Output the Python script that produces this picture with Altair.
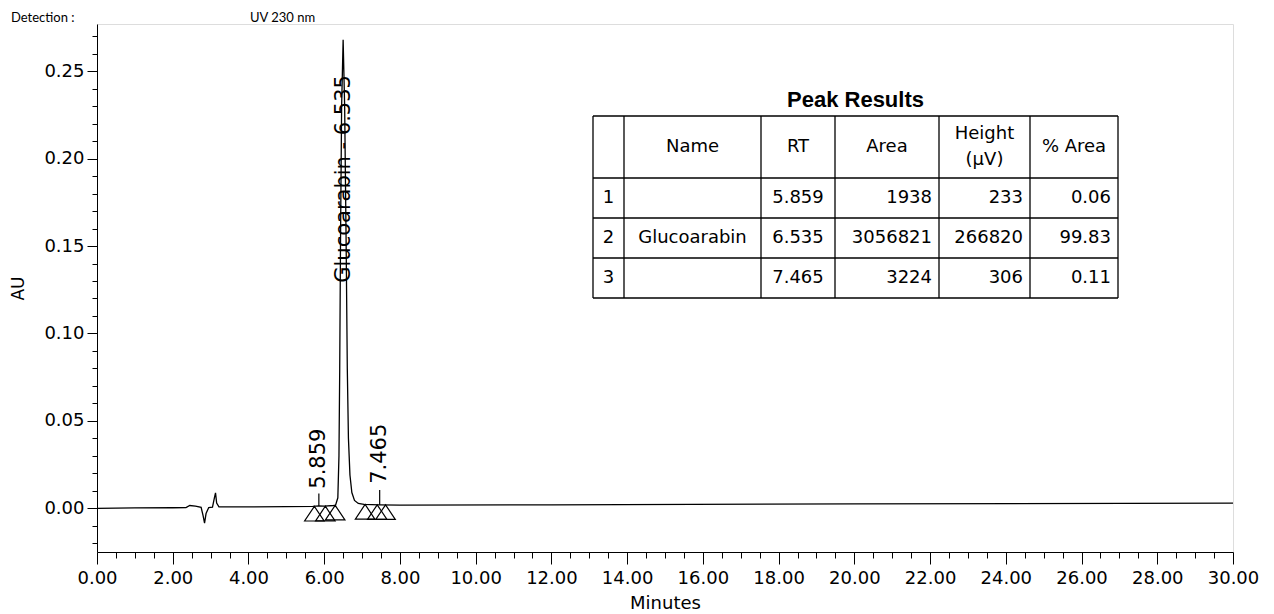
import altair as alt
import pandas as pd

# ---------------- chromatogram trace ----------------
TIME = [0.00, 1.00, 2.00, 2.35, 2.45, 2.60, 2.75, 2.80, 2.84, 2.88, 2.95, 3.05,
        3.10, 3.13, 3.16, 3.22, 4.00, 5.00, 5.70, 5.86, 6.00, 6.25, 6.30, 6.36,
        6.39, 6.41, 6.43, 6.46, 6.50, 6.54, 6.58, 6.61, 6.64, 6.68, 6.73, 6.80,
        6.90, 7.05, 7.465, 8.00, 12.00, 20.00, 30.00]
AU = [0.0000, 0.0002, 0.0003, 0.0004, 0.0016, 0.0012, 0.0005, -0.0040, -0.0085,
      -0.0030, 0.0004, 0.0006, 0.0060, 0.0088, 0.0030, 0.0008, 0.0008, 0.0010,
      0.0011, 0.0014, 0.0012, 0.0016, 0.0018, 0.0060, 0.0300, 0.0800, 0.1500,
      0.2300, 0.2680, 0.2300, 0.1500, 0.0800, 0.0400, 0.0190, 0.0090, 0.0045,
      0.0028, 0.0022, 0.0020, 0.0018, 0.0020, 0.0025, 0.0030]

# peak labels
PEAK_RT = [5.859, 6.535, 7.465]
PEAK_TEXT = ["5.859", "Glucoarabin - 6.535", "7.465"]
PEAK_LABEL_AU = [0.0112, 0.129, 0.0140]
TICK_RT = [5.859, 7.465]
TICK_BASE = [0.0013, 0.0020]
TICK_TOP = [0.0085, 0.0105]

# integration markers (triangles)
MARK_TIME = [5.74, 6.03, 6.29, 7.08, 7.40, 7.62]
MARK_AU = [0.0011, 0.0012, 0.0017, 0.0022, 0.0020, 0.0020]

# ---------------- peak results table ----------------
HEADERS = ["", "Name", "RT", "Area", "Height\n(µV)", "% Area"]
ROW_ID = ["1", "2", "3"]
NAMES = ["", "Glucoarabin", ""]
RT = ["5.859", "6.535", "7.465"]
AREA = ["1938", "3056821", "3224"]
HEIGHT = ["233", "266820", "306"]
PCT_AREA = ["0.06", "99.83", "0.11"]

# page header
HEADER_TEXT = ["Detection :", "UV 230 nm"]

# ---------------- layout ----------------
W, H = 1136, 528
FONT = "DejaVu Sans"
TABLE_LEFT, TABLE_TOP = 496, 92
COL_W = [31, 137, 74, 104, 91, 88]
ROW_H = [62, 40, 40, 40]
HEADER_LINE_GAP = 26

col_edges = [TABLE_LEFT]
for w in COL_W:
    col_edges.append(col_edges[-1] + w)
row_edges = [TABLE_TOP]
for h in ROW_H:
    row_edges.append(row_edges[-1] + h)

trace = pd.DataFrame({"t": TIME, "au": AU})
labels = pd.DataFrame({"t": PEAK_RT, "au": PEAK_LABEL_AU, "txt": PEAK_TEXT})
ticks = pd.DataFrame({"t": TICK_RT, "y0": TICK_BASE, "y1": TICK_TOP})
marks = pd.DataFrame({"t": MARK_TIME, "au": MARK_AU})

xs = alt.Scale(domain=[0, 30], nice=False, zero=False)
ys = alt.Scale(domain=[-0.025, 0.277], nice=False, zero=False)

x_vals = [i * 0.5 for i in range(0, 61)]
y_vals = [round(i * 0.01, 2) for i in range(-2, 28)]

x_axis = alt.Axis(
    values=x_vals, tickCount=200, title="Minutes", titleFont=FONT, titleFontSize=18,
    titleFontWeight="normal", titleColor="black", titlePadding=7,
    labelFont=FONT, labelFontSize=18, labelColor="black",
    labelExpr="abs(datum.value/2 - round(datum.value/2)) < 0.001 ? format(datum.value, '.2f') : ''",
    tickSize=alt.condition("abs(datum.value/2 - round(datum.value/2)) < 0.001", alt.value(12), alt.value(6)),
    labelPadding=5, tickColor="black", domainColor="black", grid=False,
    labelFlush=False, labelOverlap=False,
)
y_axis = alt.Axis(
    values=y_vals, tickCount=200, title="AU", titleFont=FONT, titleFontSize=17,
    titleFontWeight="normal", titleColor="black", titlePadding=16,
    labelFont=FONT, labelFontSize=18, labelColor="black",
    labelExpr="abs(datum.value*20 - round(datum.value*20)) < 0.001 ? format(datum.value, '.2f') : ''",
    tickSize=alt.condition("abs(datum.value*20 - round(datum.value*20)) < 0.001", alt.value(10), alt.value(5)),
    labelPadding=3, tickColor="black", domainColor="black", grid=False,
    labelFlush=False, labelOverlap=False,
)

line = alt.Chart(trace).mark_line(color="black", strokeWidth=1.3, interpolate="linear").encode(
    x=alt.X("t:Q", scale=xs, axis=x_axis),
    y=alt.Y("au:Q", scale=ys, axis=y_axis),
)
tri = alt.Chart(marks).mark_point(
    shape="M0,0L1,1.5L-1,1.5Z", size=380, filled=False, color="black", strokeWidth=1.2, opacity=1
).encode(x=alt.X("t:Q", scale=xs), y=alt.Y("au:Q", scale=ys))
tick_rules = alt.Chart(ticks).mark_rule(color="black", strokeWidth=1.2).encode(
    x=alt.X("t:Q", scale=xs), y=alt.Y("y0:Q", scale=ys), y2="y1:Q"
)
peak_text = alt.Chart(labels).mark_text(
    angle=270, align="left", baseline="middle", font=FONT, fontSize=21, color="black"
).encode(x=alt.X("t:Q", scale=xs), y=alt.Y("au:Q", scale=ys), text="txt:N")

chrom = alt.layer(line, tri, tick_rules, peak_text)

# ---------------- table geometry from layout constants ----------------
px = alt.Scale(domain=[0, W], nice=False, zero=False)
py = alt.Scale(domain=[0, H], nice=False, zero=False, reverse=True)

hrules = pd.DataFrame({"x0": [col_edges[0]] * len(row_edges),
                       "x1": [col_edges[-1]] * len(row_edges),
                       "y": row_edges})
vrules = pd.DataFrame({"x": col_edges,
                       "y0": [row_edges[0]] * len(col_edges),
                       "y1": [row_edges[-1]] * len(col_edges)})

center_cells, right_cells = [], []
for c, h in enumerate(HEADERS):
    if not h:
        continue
    xc = (col_edges[c] + col_edges[c + 1]) / 2
    yc = (row_edges[0] + row_edges[1]) / 2
    parts = h.split("\n")
    n = len(parts)
    for k, p in enumerate(parts):
        center_cells.append({"x": xc, "y": yc + (k - (n - 1) / 2) * HEADER_LINE_GAP, "txt": p})
for r in range(3):
    yc = (row_edges[r + 1] + row_edges[r + 2]) / 2
    center_cells.append({"x": (col_edges[0] + col_edges[1]) / 2, "y": yc, "txt": ROW_ID[r]})
    if NAMES[r]:
        center_cells.append({"x": (col_edges[1] + col_edges[2]) / 2, "y": yc, "txt": NAMES[r]})
    center_cells.append({"x": (col_edges[2] + col_edges[3]) / 2, "y": yc, "txt": RT[r]})
    for c, vals in ((3, AREA), (4, HEIGHT), (5, PCT_AREA)):
        right_cells.append({"x": col_edges[c + 1], "y": yc, "txt": vals[r]})

title_df = pd.DataFrame([{"x": (col_edges[0] + col_edges[-1]) / 2, "y": row_edges[0] - 16,
                          "txt": "Peak Results"}])

t_h = alt.Chart(hrules).mark_rule(color="black", strokeWidth=1.3).encode(
    x=alt.X("x0:Q", scale=px, axis=None), x2="x1:Q", y=alt.Y("y:Q", scale=py, axis=None))
t_v = alt.Chart(vrules).mark_rule(color="black", strokeWidth=1.3).encode(
    x=alt.X("x:Q", scale=px, axis=None), y=alt.Y("y0:Q", scale=py, axis=None), y2="y1:Q")
t_c = alt.Chart(pd.DataFrame(center_cells)).mark_text(
    align="center", baseline="middle", font=FONT, fontSize=18, color="black"
).encode(x=alt.X("x:Q", scale=px, axis=None), y=alt.Y("y:Q", scale=py, axis=None), text="txt:N")
t_r = alt.Chart(pd.DataFrame(right_cells)).mark_text(
    align="right", baseline="middle", dx=-7, font=FONT, fontSize=18, color="black"
).encode(x=alt.X("x:Q", scale=px, axis=None), y=alt.Y("y:Q", scale=py, axis=None), text="txt:N")
t_t = alt.Chart(title_df).mark_text(
    align="center", baseline="middle", font="Liberation Sans", fontSize=22, fontWeight="bold",
    color="black"
).encode(x=alt.X("x:Q", scale=px, axis=None), y=alt.Y("y:Q", scale=py, axis=None), text="txt:N")

header_df = pd.DataFrame({"txt": HEADER_TEXT})
hdr1 = alt.Chart(header_df.iloc[[0]]).mark_text(
    align="left", baseline="alphabetic", font="Lato", fontSize=13, color="black"
).encode(x=alt.value(-86), y=alt.value(-2), text="txt:N")
hdr2 = alt.Chart(header_df.iloc[[1]]).mark_text(
    align="left", baseline="alphabetic", font="Lato", fontSize=13, color="black"
).encode(x=alt.value(153), y=alt.value(-2), text="txt:N")

table = alt.layer(t_h, t_v, t_c, t_r, t_t, hdr1, hdr2)

chart = alt.layer(chrom, table).resolve_scale(x="independent", y="independent").properties(
    width=W, height=H,
    autosize=alt.AutoSizeParams(type="none"),
    padding={"left": 89, "top": 16, "right": 30, "bottom": 62},
).configure_view(stroke="black", strokeWidth=1.3).configure(background="white")

chart.save("out.html", embed_options={"renderer": "svg", "actions": False})
